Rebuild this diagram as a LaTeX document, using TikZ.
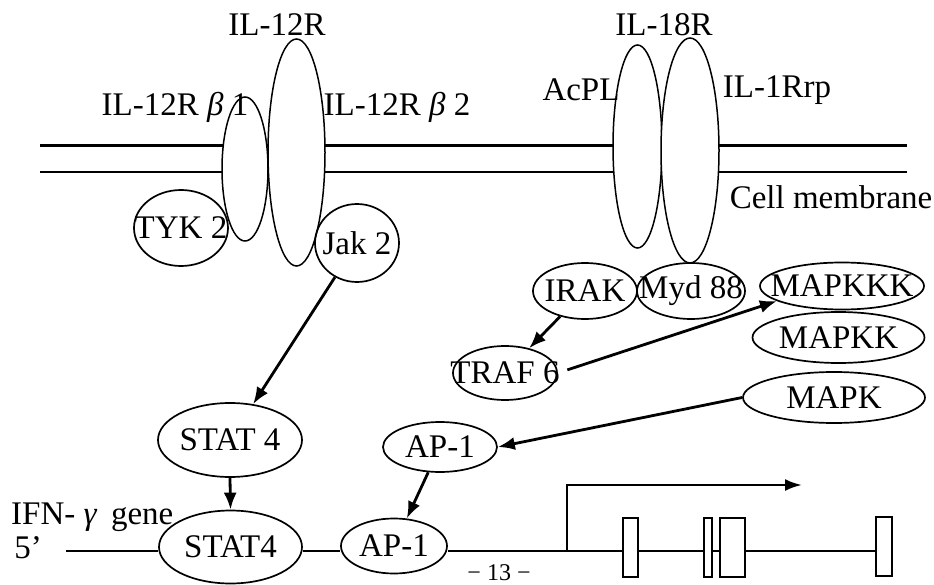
\documentclass[tikz,border=0pt]{standalone}
\usepackage{fontspec}
\setmainfont{Liberation Serif}
\usetikzlibrary{shapes.geometric,arrows.meta}
\begin{document}
\begin{tikzpicture}[x=1pt,y=-1pt,
  every node/.style={font=\fontsize{33}{36}\selectfont},
  lbl/.style={inner sep=0pt},
  recep/.style={ellipse,draw,fill=white,line width=1.5pt,inner sep=0pt},
  prot/.style={ellipse,draw,line width=1.7pt,inner sep=0pt},
  membr/.style={line width=2.8pt},
  sig/.style={line width=2.8pt,-{Latex[length=17pt,width=13pt]}},
  gene/.style={line width=2.6pt},
  exon/.style={rectangle,draw,fill=white,line width=1.6pt,inner sep=0pt},
]
\useasboundingbox (0,0) rectangle (934,585);

% membrane
\coordinate (mAL) at (40,145.5); \coordinate (mAR) at (907,145.5);
\coordinate (mBL) at (40,172);   \coordinate (mBR) at (907,172);
\draw[membr] (mAL) -- (mAR);
\draw[membr] (mBL) -- (mBR);

% IL-12 receptor
\node[recep,minimum width=46pt,minimum height=144pt] (b1) at (245,169) {};
\node[recep,minimum width=57pt,minimum height=227pt] (b2) at (296.5,152.5) {};
\node[prot,minimum width=94pt,minimum height=76pt,label={center:TYK 2}] (tyk) at (181,228) {};
\node[prot,minimum width=84pt,minimum height=78pt,label={center:Jak 2}] (jak) at (357,243) {};

% IL-18 receptor
\node[recep,minimum width=49pt,minimum height=203pt] (acpl) at (637.5,146.5) {};
\node[recep,minimum width=58pt,minimum height=225pt] (rrp) at (690,150.5) {};
\node[prot,minimum width=104pt,minimum height=56pt,label={center:IRAK}] (irak) at (585,291) {};
\node[prot,minimum width=108pt,minimum height=56pt,label={center:Myd 88}] (myd) at (691,291) {};
\node[prot,minimum width=164pt,minimum height=47pt,label={center:MAPKKK}] (mkkk) at (842,286) {};
\node[prot,minimum width=172pt,minimum height=51pt,label={center:MAPKK}] (mkk) at (838.5,337.5) {};
\node[prot,minimum width=182pt,minimum height=51pt,label={center:MAPK}] (mk) at (834,397.5) {};
\node[prot,minimum width=104pt,minimum height=54pt,label={center:TRAF 6}] (traf) at (505,373) {};

% transcription factors
\node[prot,minimum width=144pt,minimum height=74pt,label={center:STAT 4}] (sta) at (230,440) {};
\node[prot,minimum width=143pt,minimum height=73pt,label={center:STAT4}] (stb) at (230.5,547) {};
\node[prot,minimum width=114pt,minimum height=50pt,label={center:AP-1}] (apa) at (440,447) {};
\node[prot,minimum width=106pt,minimum height=55pt,label={center:AP-1}] (apb) at (394,546) {};

% exons
\node[exon,minimum width=15pt,minimum height=59pt] (ex1) at (630.5,547.5) {};
\node[exon,minimum width=8pt,minimum height=59pt] (ex2) at (708,547.5) {};
\node[exon,minimum width=25pt,minimum height=59pt] (ex3) at (732.5,547.5) {};
\node[exon,minimum width=16pt,minimum height=59pt] (ex4) at (884,546.5) {};

% gene line
\coordinate (g5) at (66,551);
\coordinate (tss) at (567,551);
\coordinate (tend) at (802,485);
\draw[gene] (g5) -- (g5 -| stb.west);
\draw[gene] (stb.east |- g5) -- (apb.west |- g5);
\draw[gene] (apb.east |- g5) -- (ex1.west |- g5);
\draw[gene] (ex1.east |- g5) -- (ex2.west |- g5);
\draw[gene] (ex2.east |- g5) -- (ex3.west |- g5);
\draw[gene] (ex3.east |- g5) -- (ex4.west |- g5);
\draw[gene,-{Latex[length=17pt,width=12pt]}] (tss) |- (tend);

% signalling arrows
\draw[sig] (jak) -- (sta);
\draw[sig] (sta.south) -- (stb.north);
\draw[sig] (irak) -- (traf);
\draw[sig,shorten <=10pt] (traf.east) -- (mkkk.193);
\draw[sig] (mk.west) -- (apa.east);
\draw[sig] (apa) -- (apb);

% labels
\node[lbl] (l12) at (277,25) {IL-12R};
\node[lbl] (l12b1) at (175,107) {IL-12R \textit{β} 1};
\node[lbl] (l12b2) at (397,107) {IL-12R \textit{β} 2};
\node[lbl] (l18) at (664,25) {IL-18R};
\node[lbl] (lacpl) at (581,90) {AcPL};
\node[lbl] (lrrp) at (777,90) {IL-1Rrp};
\node[lbl] (lcm) at (831,197) {Cell membrane};
\node[lbl,anchor=west] (lifn) at (11,517) {IFN- \textit{γ}\, gene};
\node[lbl] (l5) at (28,548) {5’};
\node[lbl,anchor=south,font=\fontsize{24}{26}\selectfont] (lpg) at (499,581) {− 13 −};
\end{tikzpicture}
\end{document}
